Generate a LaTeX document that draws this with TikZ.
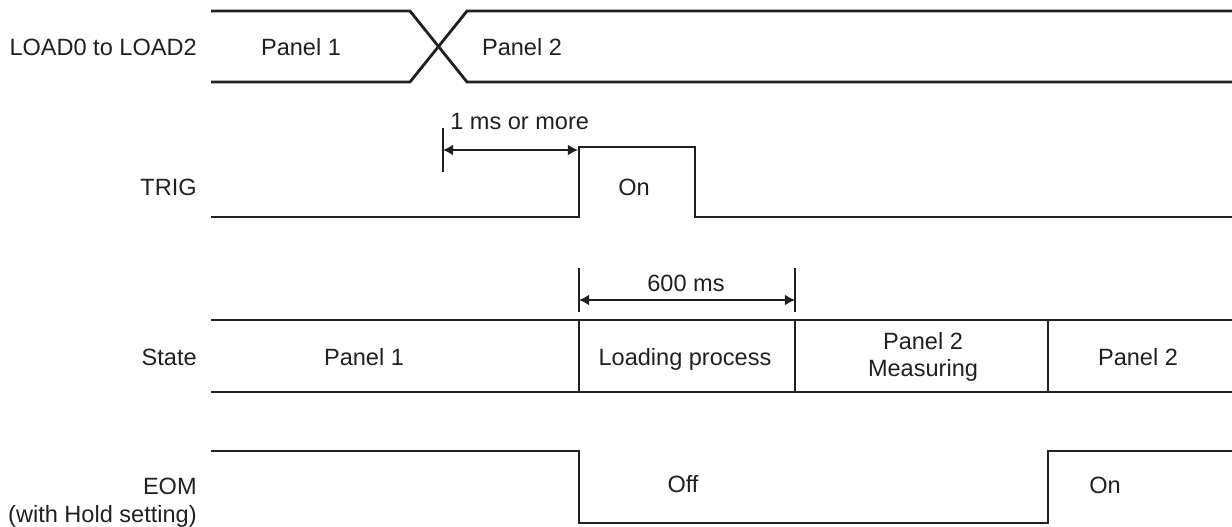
\documentclass[tikz,border=0pt]{standalone}
\usepackage{fontspec}
\setmainfont{Liberation Sans}
\usetikzlibrary{arrows.meta}
\definecolor{ink}{RGB}{35,31,32}

\begin{document}
\begin{tikzpicture}[
  x=0.02cm, y=-0.02cm,
  font=\fontsize{13.4}{15.9}\selectfont,
  wave/.style={draw=ink, line width=1.6pt, line join=miter},
  tick/.style={draw=ink, line width=0.6pt},
  dim/.style={draw=ink, line width=0.7pt, {Latex[length=5.7pt,width=6pt]}-{Latex[length=5.7pt,width=6pt]}},
  sig/.style={anchor=base east, text=ink, inner sep=0pt},
  txt/.style={anchor=base, text=ink, inner sep=0pt}
]
  % Marco fijo del dibujo (en pixeles)
  \useasboundingbox (0,0) rectangle (1232,527);

  % Nombres de las senales
  \node[sig] (lLoad)  at (197,56)  {LOAD0 to LOAD2};
  \node[sig] (lTrig)  at (197,195) {TRIG};
  \node[sig] (lState) at (197,365) {State};
  \node[sig, align=right] (lEom) at (197,522) {EOM\\(with Hold setting)};

  % LOAD0 to LOAD2
  \draw[wave] (211,11) -- (410,11) -- (467,82) -- (1232,82);
  \draw[wave] (211,82) -- (410,82) -- (467,11) -- (1232,11);
  \node[txt] (loadA) at (301,56) {Panel 1};
  \node[txt] (loadB) at (522,56) {Panel 2};

  % TRIG
  \draw[wave] (211,217) -- (579,217) -- (579,147) -- (695,147) -- (695,217) -- (1232,217);
  \node[txt] (trigOn) at (634,195) {On};
  \coordinate (mA) at (443,150);
  \coordinate (mB) at (578,150);
  \draw[tick] (443,128) -- (443,172);
  \draw[dim] (mA) -- (mB);
  \node[txt, anchor=base west] (mText) at (450,130) {1 ms or more};

  % State
  \draw[wave] (211,320) -- (1232,320);
  \draw[wave] (211,392) -- (1232,392);
  \foreach \xs in {579,795,1048}
    \draw[wave] (\xs,320) -- (\xs,392);
  \node[txt] (stA) at (364,365) {Panel 1};
  \node[txt] (stB) at (685,365) {Loading process};
  \node[txt, align=center] (stC) at (923,377) {Panel 2\\Measuring};
  \node[txt] (stD) at (1138,365) {Panel 2};

  % 600 ms
  \coordinate (dA) at (579,300);
  \coordinate (dB) at (795,300);
  \draw[tick] (579,268) -- (579,312);
  \draw[tick] (795,268) -- (795,312);
  \draw[dim] (dA) -- (dB);
  \node[txt] (dText) at (686,292) {600 ms};

  % EOM
  \draw[wave] (211,451) -- (579,451) -- (579,523) -- (1048,523) -- (1048,451) -- (1232,451);
  \node[txt] (eomOff) at (683,492) {Off};
  \node[txt] (eomOn)  at (1105,493) {On};
\end{tikzpicture}
\end{document}
